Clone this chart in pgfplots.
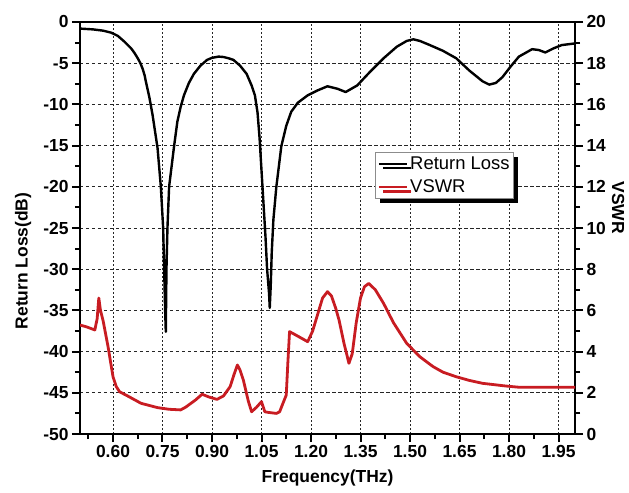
\documentclass[border=0pt]{standalone}
\usepackage{fontspec}
\setmainfont{Liberation Sans}
\usepackage{pgfplots}
\pgfplotsset{compat=1.18}
\usetikzlibrary{shadows}

\definecolor{vswrred}{RGB}{200,28,34}

% Return loss (dB) against frequency (THz)
\pgfplotstableread{
f rl
0.500 -0.8
0.540 -0.9
0.570 -1.05
0.595 -1.3
0.615 -1.7
0.635 -2.4
0.655 -3.2
0.665 -3.75
0.675 -4.4
0.683 -5.0
0.690 -5.7
0.696 -6.5
0.700 -7.3
0.710 -9.1
0.720 -11.3
0.735 -15.3
0.745 -20
0.752 -25
0.755 -30
0.758 -35
0.760 -37.6
0.762 -30
0.765 -25
0.770 -20
0.785 -15.1
0.795 -12.1
0.805 -10.3
0.815 -8.9
0.830 -7.4
0.845 -6.3
0.865 -5.3
0.885 -4.6
0.900 -4.35
0.920 -4.2
0.935 -4.25
0.950 -4.4
0.965 -4.6
0.985 -5.3
1.005 -6.3
1.020 -7.7
1.030 -8.9
1.038 -11
1.044 -14
1.050 -18
1.056 -22
1.062 -26
1.067 -30
1.073 -33
1.075 -34.7
1.078 -32
1.081 -28
1.086 -24
1.095 -20
1.110 -15.1
1.125 -12.6
1.140 -10.9
1.160 -9.8
1.190 -8.9
1.220 -8.3
1.250 -7.8
1.280 -8.1
1.305 -8.5
1.340 -7.7
1.380 -6.0
1.420 -4.4
1.460 -3.0
1.490 -2.3
1.510 -2.1
1.530 -2.3
1.560 -2.8
1.600 -3.5
1.640 -4.4
1.680 -5.9
1.720 -7.2
1.740 -7.6
1.760 -7.4
1.780 -6.7
1.805 -5.4
1.830 -4.2
1.870 -3.3
1.890 -3.4
1.910 -3.7
1.935 -3.2
1.960 -2.8
2.000 -2.6
}\rltable

% VSWR against frequency (THz)
\pgfplotstableread{
f vswr
0.500 5.29
0.520 5.2
0.545 5.05
0.552 5.6
0.557 6.6
0.562 6.0
0.570 5.5
0.585 4.24
0.600 2.78
0.610 2.3
0.620 2.05
0.645 1.84
0.685 1.49
0.735 1.28
0.770 1.2
0.805 1.17
0.820 1.3
0.850 1.65
0.870 1.93
0.890 1.8
0.915 1.68
0.935 1.85
0.955 2.30
0.967 2.9
0.977 3.35
0.985 3.1
0.995 2.62
1.010 1.6
1.020 1.08
1.035 1.3
1.050 1.57
1.060 1.08
1.070 1.05
1.095 1.0
1.105 1.08
1.115 1.49
1.125 1.89
1.130 3.5
1.135 4.97
1.160 4.75
1.190 4.48
1.205 5.0
1.220 5.8
1.235 6.6
1.250 6.91
1.262 6.7
1.275 6.1
1.285 5.53
1.300 4.4
1.315 3.43
1.325 3.9
1.337 5.4
1.350 6.6
1.362 7.15
1.375 7.31
1.395 7.0
1.420 6.34
1.450 5.4
1.490 4.40
1.530 3.75
1.570 3.27
1.600 3.0
1.640 2.78
1.680 2.6
1.720 2.46
1.790 2.33
1.830 2.27
2.000 2.27
}\vswrtable

\pgfplotsset{
  common/.style={
    scale only axis,
    width=495bp, height=412bp,
    xmin=0.5, xmax=2.0,
    tick align=outside,
    major tick length=8bp,
    minor tick length=5bp,
    every tick/.style={black, line width=2bp},
    axis line style={line width=2.8bp},
    /pgf/number format/assume math mode=true,
    tick label style={font=\fontsize{17.5}{20}\selectfont\bfseries},
  },
}

\begin{document}
\begin{tikzpicture}
\begin{axis}[
  common,
  ymin=-50, ymax=0,
  xtick={0.60,0.75,0.90,1.05,1.20,1.35,1.50,1.65,1.80,1.95},
  xticklabels={0.60,0.75,0.90,1.05,1.20,1.35,1.50,1.65,1.80,1.95},
  minor xtick={0.525,0.675,0.825,0.975,1.125,1.275,1.425,1.575,1.725,1.875},
  ytick={-50,-45,...,0},
  yticklabels={-50,-45,-40,-35,-30,-25,-20,-15,-10,-5,0},
  minor ytick={-47.5,-42.5,...,-2.5},
  xtick pos=left, ytick pos=left,
  grid=major,
  major x grid style={black!85, line width=0.9bp, dash pattern=on 2bp off 2bp},
  major y grid style={black!85, line width=0.9bp, dash pattern=on 3.5bp off 2.5bp},
  xlabel={Frequency(THz)},
  ylabel={Return Loss(dB)},
  every axis x label/.style={at={(rel axis cs:0.5,-0.107)}, anchor=center,
    font=\fontsize{17.5}{20}\selectfont\bfseries},
  every axis y label/.style={at={(rel axis cs:-0.115,0.42)}, anchor=center, rotate=90,
    font=\fontsize{17.5}{20}\selectfont\bfseries},
]
\addplot[black, line width=2.4bp, line join=round] table[x=f, y=rl] {\rltable};
\end{axis}

\begin{axis}[
  common,
  ymin=0, ymax=20,
  axis x line=none,
  axis y line*=right,
  ytick={0,2,...,20},
  minor ytick={1,3,...,19},
  ylabel={VSWR},
  every axis y label/.style={at={(rel axis cs:1.087,0.549)}, anchor=center, rotate=-90,
    font=\fontsize{17.5}{20}\selectfont\bfseries},
  legend style={
    at={(rel axis cs:0.596,0.685)}, anchor=north west,
    draw=black!45, line width=0.8bp, fill=white,
    drop shadow={shadow xshift=4.5bp, shadow yshift=-4.5bp, fill=black, opacity=1},
    font=\fontsize{18.5}{20}\selectfont,
    inner xsep=2bp, inner ysep=2.5bp,
    row sep=5bp,
  },
  legend cell align=left,
  legend image code/.code={\draw[#1] (0bp,0bp) -- (28bp,0bp);},
]
\addlegendimage{black, line width=2.4bp}
\addlegendentry{Return Loss}
\addplot[vswrred, line width=2.8bp, line join=round] table[x=f, y=vswr] {\vswrtable};
\addlegendentry{VSWR}
\end{axis}

\path ([xshift=-80bp, yshift=-59bp]current axis.south west) rectangle ++(629bp,493bp);
\end{tikzpicture}
\end{document}
